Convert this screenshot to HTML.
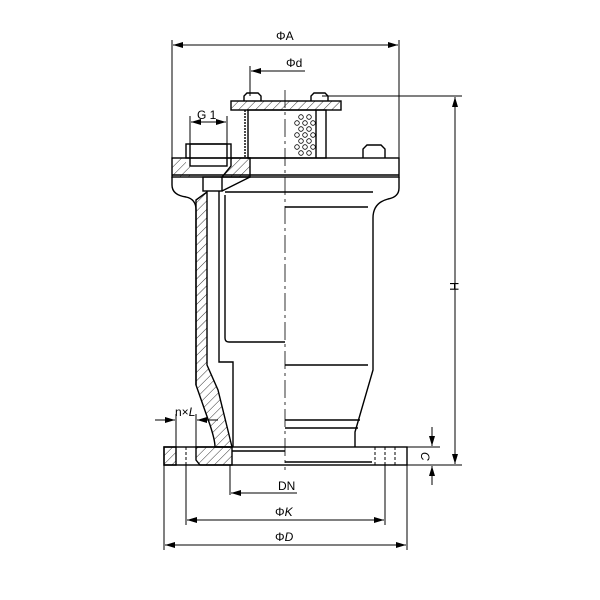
<!DOCTYPE html><html><head><style>body{margin:0;background:#fff}svg{display:block}text{font-family:"Liberation Sans",sans-serif;font-size:12px;fill:#000}</style></head><body>
<svg width="600" height="600" viewBox="0 0 600 600" xmlns="http://www.w3.org/2000/svg">
<defs>
<pattern id="h" width="6" height="6" patternUnits="userSpaceOnUse" patternTransform="rotate(45)"><line x1="0" y1="0" x2="0" y2="6" stroke="#000" stroke-width="0.8"/></pattern>
<marker id="a" viewBox="0 0 10 6" refX="10" refY="3" markerWidth="10" markerHeight="6" orient="auto-start-reverse" markerUnits="userSpaceOnUse"><path d="M0,0 L10,3 L0,6z" fill="#000"/></marker>
</defs>
<g fill="none" stroke="#000" stroke-width="1">
<line x1="172" y1="40" x2="172" y2="158"/><line x1="399" y1="40" x2="399" y2="158"/>
<line x1="173" y1="45" x2="398" y2="45" marker-start="url(#a)" marker-end="url(#a)"/>
<line x1="250" y1="66" x2="250" y2="96"/>
<line x1="251" y1="71" x2="305" y2="71" marker-start="url(#a)"/>
<line x1="322" y1="96" x2="462" y2="96"/><line x1="410" y1="465" x2="462" y2="465"/>
<line x1="455" y1="97" x2="455" y2="464" marker-start="url(#a)" marker-end="url(#a)"/>
<line x1="285" y1="90" x2="285" y2="470" stroke-dasharray="18,4,3,4" stroke-width="0.8"/>
</g>
<g fill="none" stroke="#000" stroke-width="1.4">
<rect x="231" y="101" width="110" height="9" fill="url(#h)"/>
<path d="M244,101 L244,96 L247,93 L258,93 L261,96 L261,101"/><path d="M311,101 L311,96 L314,93 L325,93 L328,96 L328,101"/>
<rect x="248" y="110" width="78" height="48"/>
<line x1="245" y1="110" x2="245" y2="158" stroke-dasharray="2,1"/>
<line x1="316" y1="110" x2="316" y2="158"/>
<g stroke-width="0.8">
<circle cx="301" cy="117" r="2.3"/><circle cx="309" cy="117" r="2.3"/>
<circle cx="297" cy="123" r="2.3"/><circle cx="305" cy="123" r="2.3"/><circle cx="313" cy="123" r="2.3"/>
<circle cx="301" cy="129" r="2.3"/><circle cx="309" cy="129" r="2.3"/>
<circle cx="297" cy="135" r="2.3"/><circle cx="305" cy="135" r="2.3"/><circle cx="313" cy="135" r="2.3"/>
<circle cx="301" cy="141" r="2.3"/><circle cx="309" cy="141" r="2.3"/>
<circle cx="297" cy="147" r="2.3"/><circle cx="305" cy="147" r="2.3"/><circle cx="313" cy="147" r="2.3"/>
<circle cx="301" cy="153" r="2.3"/><circle cx="309" cy="153" r="2.3"/>
</g>
<rect x="186" y="144" width="45" height="14"/>
<rect x="190" y="144" width="37" height="22"/>
<line x1="190" y1="116" x2="190" y2="144" stroke-width="1"/><line x1="227" y1="116" x2="227" y2="144" stroke-width="1"/>
<line x1="191" y1="122" x2="226" y2="122" stroke-width="1" marker-start="url(#a)" marker-end="url(#a)"/>
<path d="M363,158 L363,149 L367,145 L381,145 L385,149 L385,158"/>
<rect x="172" y="158" width="227" height="19"/>
<line x1="172" y1="175" x2="399" y2="175" stroke-width="1.6"/>
<path d="M172,158 L186,158 L186,166 L190,166 L190,177 L172,177z" fill="url(#h)" stroke="none"/>
<path d="M231,158 L250,158 L250,177 L222,177 L231,166z" fill="url(#h)"/>
<rect x="203" y="177" width="19" height="14"/>
<line x1="222" y1="191" x2="250" y2="177"/>
<path d="M172,177 L172,185 Q172,195 186,197 Q196,199 196,210 L196,385"/>
<path d="M399,177 L399,188 Q399,197 388,199 Q373,203 373,218 L373,370 L355,432 L355,447"/>
<path d="M196,200 L207,192 L207,365 L218,390 L232,447 L215,447 Q215,440 210,425 L196,385z" fill="url(#h)"/>
<path d="M219,191 L219,362 L233,362 L233,447"/>
<path d="M225,195 L225,338 Q225,342 229,342 L285,342"/>
<line x1="225" y1="192" x2="373" y2="192"/>
<line x1="285" y1="207" x2="368" y2="207"/>
<line x1="285" y1="365" x2="368" y2="365"/>
<line x1="285" y1="420" x2="360" y2="420"/><line x1="285" y1="428" x2="358" y2="428"/>
<rect x="164" y="447" width="243" height="18"/>
<path d="M164,447 L176,447 L176,465 L164,465z" fill="url(#h)"/>
<path d="M196,447 L215,447 L232,447 L232,465 L200,465 L196,460z" fill="url(#h)"/>
<line x1="232" y1="451" x2="285" y2="451"/>
<line x1="285" y1="462" x2="372" y2="462"/>
<line x1="186" y1="447" x2="186" y2="465" stroke-dasharray="3,2" stroke-width="1"/>
<line x1="375" y1="447" x2="375" y2="465" stroke-dasharray="3,2" stroke-width="1"/>
<line x1="385" y1="447" x2="385" y2="465" stroke-dasharray="3,2" stroke-width="1"/>
<line x1="395" y1="447" x2="395" y2="465" stroke-dasharray="3,2" stroke-width="1"/>
</g>
<g fill="none" stroke="#000" stroke-width="1">
<line x1="176" y1="414" x2="176" y2="447"/><line x1="196" y1="414" x2="196" y2="447"/>
<line x1="155" y1="420" x2="175" y2="420" marker-end="url(#a)"/>
<line x1="218" y1="420" x2="197" y2="420" marker-end="url(#a)"/>
<line x1="407" y1="447" x2="440" y2="447"/><line x1="407" y1="465" x2="440" y2="465"/>
<line x1="432" y1="427" x2="432" y2="446" marker-end="url(#a)"/>
<line x1="432" y1="485" x2="432" y2="466" marker-end="url(#a)"/>
<line x1="230" y1="465" x2="230" y2="495"/>
<line x1="231" y1="493" x2="297" y2="493" marker-start="url(#a)"/>
<line x1="186" y1="465" x2="186" y2="525"/><line x1="385" y1="465" x2="385" y2="525"/>
<line x1="187" y1="520" x2="384" y2="520" marker-start="url(#a)" marker-end="url(#a)"/>
<line x1="164" y1="465" x2="164" y2="550"/><line x1="407" y1="465" x2="407" y2="550"/>
<line x1="165" y1="545" x2="406" y2="545" marker-start="url(#a)" marker-end="url(#a)"/>
</g>
<text x="276" y="40">ΦA</text>
<text x="286" y="67">Φd</text>
<text x="197" y="119">G 1</text>
<text x="175" y="416" font-size="11">n×<tspan font-style="italic">L</tspan></text>
<text x="278" y="490">DN</text>
<text x="275" y="516">Φ<tspan font-style="italic">K</tspan></text>
<text x="275" y="541">Φ<tspan font-style="italic">D</tspan></text>
<text x="0" y="0" transform="translate(450,282) rotate(90)">H</text>
<text x="0" y="0" font-style="italic" transform="translate(421,452) rotate(90)">C</text>
</svg>
</body></html>
